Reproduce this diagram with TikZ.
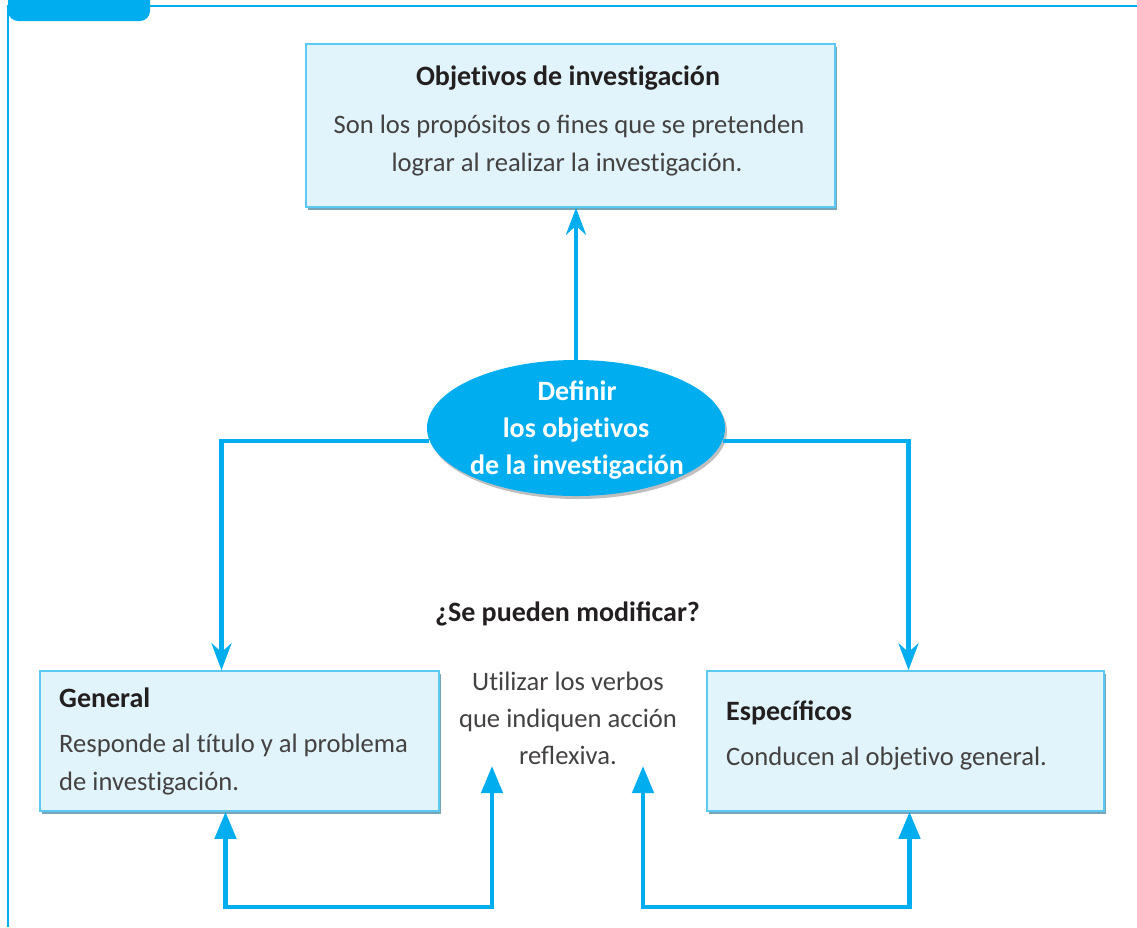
\documentclass[tikz,border=0pt]{standalone}
\usepackage{fontspec}
\setmainfont{Carlito}[Ligatures=NoCommon]
\usetikzlibrary{arrows.meta,shadows,shapes.geometric}
\definecolor{cy}{HTML}{00AEEF}
\definecolor{boxfill}{HTML}{E1F3FB}
\definecolor{boxline}{HTML}{5BC9F1}
\definecolor{shadec}{HTML}{3F7F96}
\definecolor{txt}{HTML}{231F20}
\begin{document}
\begin{tikzpicture}[x=1pt,y=-1pt,
  objbox/.style={rectangle, draw=boxline, line width=1.5pt, fill=boxfill, inner sep=0pt,
    drop shadow={shadow xshift=2pt, shadow yshift=-3pt, fill=shadec, opacity=0.7}},
  titletext/.style={inner sep=0pt, text=txt, font=\bfseries\fontsize{28}{32}\selectfont},
  bodytext/.style={inner sep=0pt, text=txt!85, font=\fontsize{26.6}{30}\selectfont},
  elltext/.style={inner sep=0pt, text=white, font=\bfseries\fontsize{28}{32}\selectfont},
  conn/.style={draw=cy, line width=4.5pt},
  downtip/.style={-{Stealth[width=20pt,length=27pt,inset=9pt]}},
  bothtip/.style={{Triangle[width=21pt,length=27pt]}-{Triangle[width=21pt,length=27pt]}}
]
\useasboundingbox (0,0) rectangle (1137,927);
% frame and tab
\draw[cy, line width=2pt] (8,927) -- (8,6) -- (1140,6);
\fill[cy, rounded corners=10pt] (8,-20) rectangle (150,21);

% top box
\node[objbox, minimum width=529pt, minimum height=163pt] (top) at (570.5,125.5) {};
\node[titletext, anchor=mid] (toptitle) at (568,83) {Objetivos de investigación};
\node[bodytext, anchor=mid] (topa) at (569,131) {Son los propósitos o ﬁnes que se pretenden};
\node[bodytext, anchor=mid] (topb) at (567,169) {lograr al realizar la investigación.};

% ellipse
\node[ellipse, fill=cy, minimum width=298pt, minimum height=136pt, inner sep=0pt,
  drop shadow={shadow xshift=2pt, shadow yshift=-3pt, fill=gray, opacity=0.5}] (ell) at (576,428) {};
\node[elltext, anchor=mid] (ella) at (577,398) {Deﬁnir};
\node[elltext, anchor=mid] (ellb) at (576,435) {los objetivos};
\node[elltext, anchor=mid] (ellc) at (577,472) {de la investigación};

% general box
\node[objbox, minimum width=399pt, minimum height=140pt] (gen) at (239.5,741) {};
\node[titletext, anchor=mid west] (gent) at (59,705) {General};
\node[bodytext, anchor=mid west] (gena) at (59,750) {Responde al título y al problema};
\node[bodytext, anchor=mid west] (genb) at (59,788) {de investigación.};

% especificos box
\node[objbox, minimum width=397pt, minimum height=140pt] (esp) at (905.5,741) {};
\node[titletext, anchor=mid west] (espt) at (726,718) {Especíﬁcos};
\node[bodytext, anchor=mid west] (espa) at (726,763) {Conducen al objetivo general.};

% centre texts
\node[titletext, anchor=mid] (q) at (567.5,619) {¿Se pueden modiﬁcar?};
\node[bodytext, anchor=mid] (ua) at (568,688) {Utilizar los verbos};
\node[bodytext, anchor=mid] (ub) at (568,725) {que indiquen acción};
\node[bodytext, anchor=mid] (uc) at (568,762) {reﬂexiva.};
\coordinate (tipL) at (492,766);
\coordinate (tipR) at (643,766);

% connectors
\draw[conn, downtip] (ell.north) -- (ell.north |- top.south);
\draw[conn, downtip] (ell.185.5) -| ([xshift=-18pt]gen.north);
\draw[conn, downtip] (ell.-5.5) -| ([xshift=3pt]esp.north);
\draw[conn, bothtip] ([xshift=-14pt]gen.south) -- ([xshift=-14pt,yshift=-95pt]gen.south) -| (tipL);
\draw[conn, bothtip] ([xshift=4pt]esp.south) -- ([xshift=4pt,yshift=-95pt]esp.south) -| (tipR);
\end{tikzpicture}
\end{document}
